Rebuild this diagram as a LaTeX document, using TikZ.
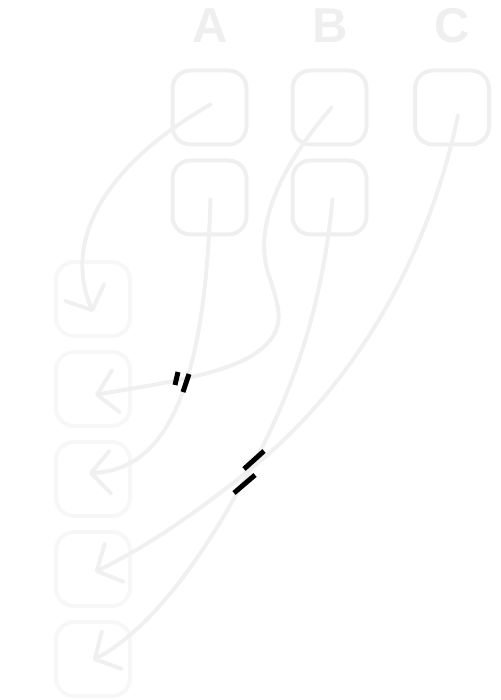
\documentclass[tikz,border=0pt]{standalone}
\usepackage{fontspec}
\setmainfont{Liberation Sans}
\usetikzlibrary{arrows.meta}
\definecolor{boxgray}{HTML}{EFEFEF}
\definecolor{sidegray}{HTML}{F7F7F7}
\definecolor{linegray}{HTML}{F0F0F0}
\begin{document}
\begin{tikzpicture}[x=1pt,y=-1pt,
        box/.style={draw=boxgray,line width=4pt,rounded corners=18pt,minimum size=74pt,inner sep=0pt},
        sidebox/.style={box,draw=sidegray},
        head/.style={text=boxgray,font=\fontsize{49}{49}\selectfont\bfseries},
        link/.style={draw=linegray,line width=4pt,line cap=round,
            -{Straight Barb[length=19pt,width=42pt,round]}},
        tick/.style={line width=5pt}]
    \useasboundingbox (0,0) rectangle (500,700);
    \node[head] (hA) at (210,26) {A};                      % Column labels
    \node[head] (hB) at (330,26) {B};
    \node[head] (hC) at (452,26) {C};
    \node[box] (a1) at (209.5,107.5) {};                   % Top rows
    \node[box] (b1) at (329.5,107.5) {};
    \node[box] (c1) at (452,107.5) {};
    \node[box] (a2) at (209.5,197.5) {};
    \node[box] (b2) at (329.5,197.5) {};
    \foreach \i in {1,...,5}                               % Left column
        \node[sidebox] (l\i) at (93,{299+90*(\i-1)}) {};
    \draw[link] ([shift={(1,-3)}]a1.center)
        .. controls (105,165) and (62,240) .. ([shift={(0,13)}]l1.center);
    \draw[link] ([shift={(2,0)}]b1.center)
        .. controls (295,150) and (255,210) .. (266,265)
        .. controls (275,300) and (292,325) .. (260,350)
        .. controls (230,375) and (150,385) .. ([shift={(2,6)}]l2.center);
    \draw[link] ([shift={(1,2)}]a2.center)
        .. controls (205,380) and (170,470) .. ([shift={(-4,-6)}]l3.center);
    \draw[link] ([shift={(3,2)}]b2.center)
        .. controls (320,330) and (280,420) .. (237,493)
        .. controls (200,560) and (150,630) .. ([shift={(0,1)}]l5.center);
    \draw[link] ([shift={(6,8)}]c1.center)
        .. controls (430,250) and (360,380) .. (253,467)
        .. controls (200,510) and (150,545) .. ([shift={(2,3)}]l4.center);
    \draw[tick] (178,372)--(175,385);                      % Crossing marks
    \draw[tick] (189,374)--(183,392);
    \draw[tick] (264,451)--(244,469);
    \draw[tick] (255,475)--(234,493);
\end{tikzpicture}
\end{document}
